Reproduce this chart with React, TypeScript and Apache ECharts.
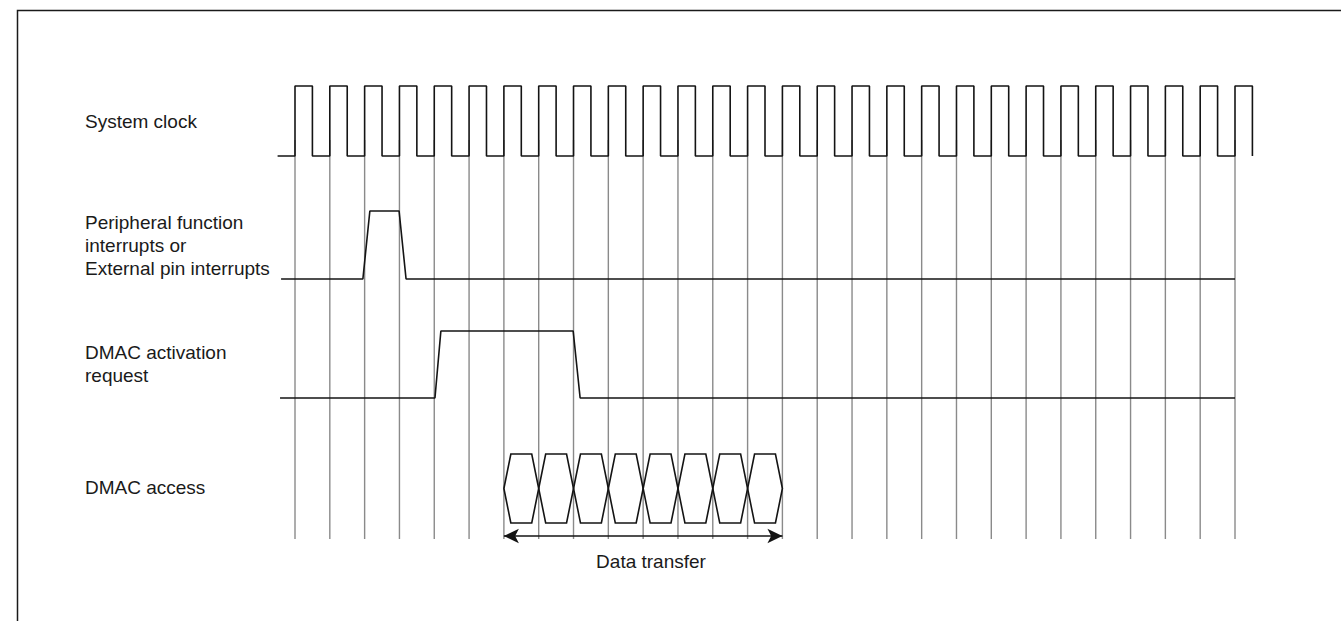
import React, { useEffect, useRef } from "react";
import * as echarts from "echarts";

// Time axis: unit = one system-clock period, t = 0 at the first rising edge
const clockRises: number[] = [0, 1, 2, 3, 4, 5, 6, 7, 8, 9, 10, 11, 12, 13, 14, 15, 16, 17, 18, 19, 20, 21, 22, 23, 24, 25, 26, 27];
const clockStart = -0.5;
const clockDuty = 0.5;

// Signal lanes (vertical level scale, top = 0)
const laneNames: string[] = [
  "System clock",
  "Peripheral function\ninterrupts or\nExternal pin interrupts",
  "DMAC activation\nrequest",
  "DMAC access",
];
const laneHigh: number[] = [86, 211, 331, 454];
const laneLow: number[] = [156, 279, 398, 523];
const laneLabelY: number[] = [121, 245, 364, 487];

// Waveforms as [time, level(0/1)]
const irqWave: [number, number][] = [
  [-0.4, 0], [1.95, 0], [2.15, 1], [2.99, 1], [3.19, 0], [27, 0],
];
const dmacReqWave: [number, number][] = [
  [-0.43, 0], [4.02, 0], [4.19, 1], [7.99, 1], [8.19, 0], [27, 0],
];
const accessSlots: number[] = [6, 7, 8, 9, 10, 11, 12, 13];
const accessEdge = 0.2;
const transferSpan: [number, number] = [6, 14];
const transferLabel = "Data transfer";
const guideRange: [number, number] = [140, 539];
const arrowLevel = 536;

// Layout
const W = 1341;
const H = 621;
const FIRST_EDGE_PX = 295;
const LAST_EDGE_PX = 1235;

const FONT = "'Liberation Sans', Arial, Helvetica, sans-serif";
const INK = "#141414";

export default function App() {
  const ref = useRef<HTMLDivElement>(null);

  useEffect(() => {
    document.body.style.margin = "0";
    const chart = echarts.init(ref.current!, null, { renderer: "svg" });

    const period = (LAST_EDGE_PX - FIRST_EDGE_PX) / (clockRises[clockRises.length - 1] - clockRises[0]);
    const xMin = clockRises[0] - FIRST_EDGE_PX / period;
    const xMax = clockRises[0] + (W - FIRST_EDGE_PX) / period;

    const lvl = (lane: number, v: number) => (v ? laneHigh[lane] : laneLow[lane]);

    const clockData: number[][] = [[clockStart, lvl(0, 0)]];
    clockRises.forEach((t) => {
      clockData.push([t, lvl(0, 0)], [t, lvl(0, 1)], [t + clockDuty, lvl(0, 1)], [t + clockDuty, lvl(0, 0)]);
    });
    const irqData = irqWave.map(([t, v]) => [t, lvl(1, v)]);
    const reqData = dmacReqWave.map(([t, v]) => [t, lvl(2, v)]);

    const sigLine = { color: INK, width: 1.6 };

    const labelGraphics = laneNames.map((name, i) => ({
      type: "text",
      x: 85,
      y: laneLabelY[i],
      style: {
        text: name,
        font: `19px ${FONT}`,
        fill: "#1a1a1a",
        lineHeight: 23,
        verticalAlign: "middle",
        align: "left",
      },
    }));

    chart.setOption({
      animation: false,
      backgroundColor: "#ffffff",
      grid: { left: 0, right: 0, top: 0, bottom: 0 },
      xAxis: { type: "value", min: xMin, max: xMax, show: false, splitLine: { show: false } },
      yAxis: { type: "value", min: 0, max: H, inverse: true, show: false, splitLine: { show: false } },
      graphic: [
        {
          type: "polyline",
          shape: { points: [[17.5, H], [17.5, 10.5], [W, 10.5]] },
          style: { stroke: "#1a1a1a", lineWidth: 1.5, fill: "none" },
        },
        ...labelGraphics,
        {
          type: "text",
          x: 651,
          y: 561,
          style: {
            text: transferLabel,
            font: `19px ${FONT}`,
            fill: "#1a1a1a",
            align: "center",
            verticalAlign: "middle",
          },
        },
      ],
      series: [
        {
          name: "guides",
          type: "custom",
          silent: true,
          z: 1,
          data: clockRises.map((t) => [t, 0]),
          renderItem: (_p: any, api: any) => {
            const a = api.coord([api.value(0), guideRange[0]]);
            const b = api.coord([api.value(0), guideRange[1]]);
            return {
              type: "line",
              shape: { x1: a[0], y1: a[1], x2: b[0], y2: b[1] },
              style: { stroke: "#8a8a8a", lineWidth: 1.4 },
            };
          },
        },
        {
          name: laneNames[0],
          type: "line",
          data: clockData,
          symbol: "none",
          silent: true,
          z: 3,
          lineStyle: sigLine,
        },
        {
          name: laneNames[1],
          type: "line",
          data: irqData,
          symbol: "none",
          silent: true,
          z: 3,
          lineStyle: sigLine,
        },
        {
          name: laneNames[2],
          type: "line",
          data: reqData,
          symbol: "none",
          silent: true,
          z: 3,
          lineStyle: sigLine,
        },
        {
          name: laneNames[3],
          type: "custom",
          silent: true,
          z: 3,
          data: accessSlots.map((t) => [t, 0]),
          renderItem: (_p: any, api: any) => {
            const t = api.value(0);
            const top = laneHigh[3];
            const bot = laneLow[3];
            const mid = (top + bot) / 2;
            const pts = [
              [t, mid],
              [t + accessEdge, top],
              [t + 1 - accessEdge, top],
              [t + 1, mid],
              [t + 1 - accessEdge, bot],
              [t + accessEdge, bot],
            ].map((p) => api.coord(p));
            return {
              type: "polygon",
              shape: { points: pts },
              style: { stroke: INK, lineWidth: 1.6, fill: "none" },
            };
          },
        },
        {
          name: transferLabel,
          type: "line",
          data: [
            [transferSpan[0], arrowLevel],
            [transferSpan[1], arrowLevel],
          ],
          symbol: "none",
          silent: true,
          lineStyle: { opacity: 0 },
          markLine: {
            silent: true,
            symbol: ["arrow", "arrow"],
            symbolSize: [11, 15],
            label: { show: false },
            lineStyle: { color: INK, width: 1.6, type: "solid" },
            data: [
              [
                { coord: [transferSpan[0], arrowLevel] },
                { coord: [transferSpan[1], arrowLevel] },
              ],
            ],
          },
        },
      ],
    });

    return () => chart.dispose();
  }, []);

  return <div ref={ref} style={{ width: W, height: H }} />;
}
